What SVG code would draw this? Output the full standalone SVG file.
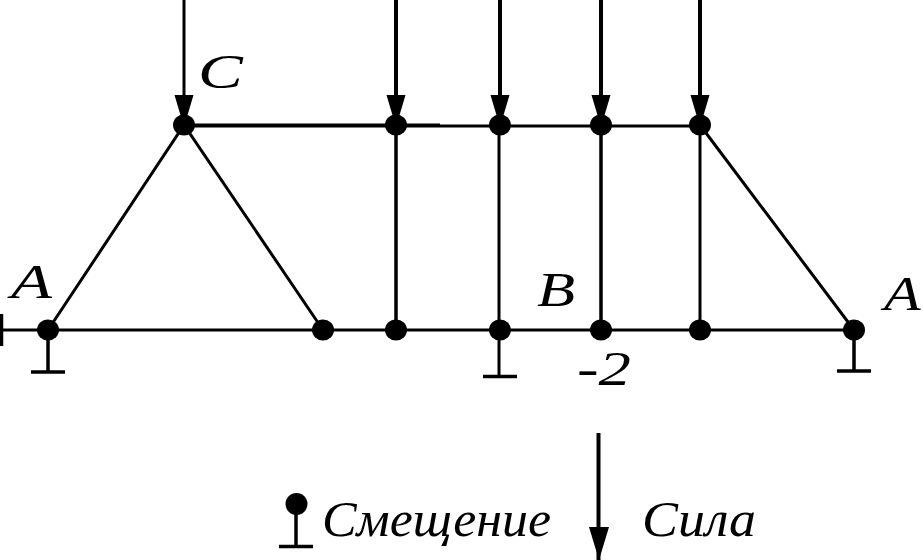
<svg xmlns="http://www.w3.org/2000/svg" width="923" height="560" viewBox="0 0 923 560">
<style>
.l{stroke:#000;stroke-width:3;fill:none}
.m{stroke:#000;stroke-width:3.500;fill:none}
.w{stroke:#000;stroke-width:4;fill:none}
.h{fill:#000}
.t{font-family:"Liberation Serif","Times New Roman",serif;font-style:italic;fill:#000}
</style>
<defs>
<ellipse id="dot" rx="11" ry="10.500" class="h"/>
<path id="head" class="h" d="M-9.500 -30H9.500L1.500 -3H-1.500Z"/>
</defs>
<rect width="923" height="560" fill="#fff"/>
<g id="connectors">
<path class="l" d="M3 330H854M440 126H700M48 330L184 125L323 330M700 125L854 330"/>
<path class="w" d="M184 125.500H440"/>
<path class="m" d="M396 125V330M601 125V330"/>
<path class="l" d="M499 125V376M700 125V330"/>
<path class="m" d="M48 330V372M31 372H65M483 376.500H517M854 330V371M837 371H871"/>
<path d="M1.500 314V346" stroke="#000" stroke-width="3.500"/>
<path class="l" d="M184 0V125"/>
<path class="w" d="M396 0V125M500 0V125M601 0V125M700 0V125"/>
<use href="#head" x="184" y="125"/><use href="#head" x="396" y="125"/><use href="#head" x="500" y="125"/><use href="#head" x="601" y="125"/><use href="#head" x="700" y="125"/>
</g>
<g id="node-c"><use href="#dot" x="184" y="125"/><text class="t" transform="translate(198 88) scale(1.400 1)" font-size="48">C</text></g>
<g id="node-t2"><use href="#dot" x="396" y="125"/></g>
<g id="node-t3"><use href="#dot" x="500" y="125"/></g>
<g id="node-t4"><use href="#dot" x="601" y="125"/></g>
<g id="node-t5"><use href="#dot" x="700" y="125"/></g>
<g id="node-a-left"><use href="#dot" x="48" y="330"/><text class="t" transform="translate(11 298) scale(1.400 1)" font-size="48">A</text></g>
<g id="node-b2"><use href="#dot" x="323" y="330"/></g>
<g id="node-b3"><use href="#dot" x="396" y="330"/></g>
<g id="node-b4"><use href="#dot" x="500" y="330"/></g>
<g id="node-b"><use href="#dot" x="601" y="330"/><text class="t" transform="translate(537 306) scale(1.300 1)" font-size="48">B</text><text class="t" transform="translate(577 385) scale(1.350 1)" font-size="48">-2</text></g>
<g id="node-b6"><use href="#dot" x="700" y="330"/></g>
<g id="node-a-right"><use href="#dot" x="854" y="330"/><text class="t" transform="translate(884 310) scale(1.250 1)" font-size="48">A</text></g>
<g id="legend-displacement">
<path class="m" d="M296 505V546M279 546.500H313"/>
<ellipse cx="296.500" cy="504" rx="11" ry="11" class="h"/>
<text class="t" x="322" y="536" font-size="50" textLength="229" lengthAdjust="spacingAndGlyphs">Смещение</text>
</g>
<g id="legend-force">
<path d="M598.500 433V560" stroke="#000" stroke-width="4" fill="none"/>
<path class="h" d="M589 527H609L599 560Z"/>
<text class="t" x="642" y="536" font-size="50" textLength="114" lengthAdjust="spacingAndGlyphs">Сила</text>
</g>
</svg>
